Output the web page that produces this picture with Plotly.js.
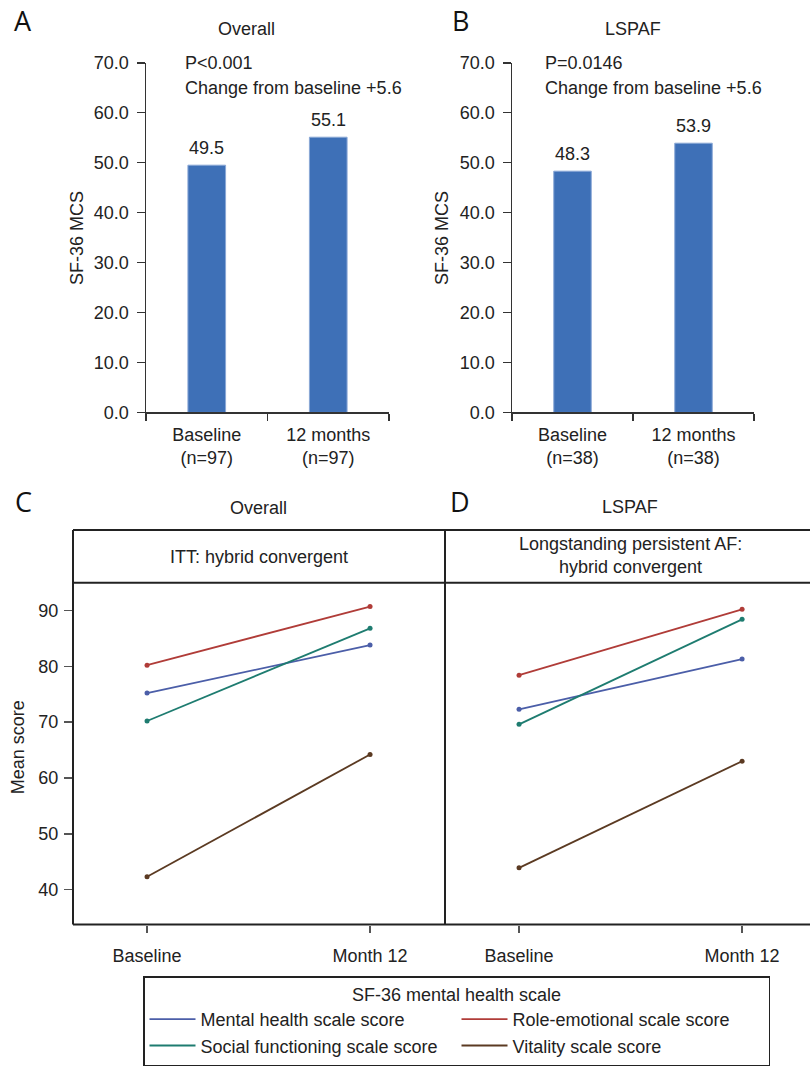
<!DOCTYPE html>
<html>
<head>
<meta charset="utf-8">
<script src="https://cdn.plot.ly/plotly-3.0.1.min.js"></script>
<style>html,body{margin:0;padding:0;background:#fff;}#chart{width:810px;height:1066px;}</style>
</head>
<body>
<div id="chart"></div>
<script>
// ---- data ----
const barCatsA = ['Baseline<br>(n=97)', '12 months<br>(n=97)'];
const barValsA = [49.5, 55.1];
const barCatsB = ['Baseline<br>(n=38)', '12 months<br>(n=38)'];
const barValsB = [48.3, 53.9];
const titleA = 'Overall';
const titleB = 'LSPAF';
const noteA = ['P<0.001', 'Change from baseline +5.6'];
const noteB = ['P=0.0146', 'Change from baseline +5.6'];

const timepoints = ['Baseline', 'Month 12'];
const scaleNames = ['Mental health scale score', 'Role-emotional scale score', 'Social functioning scale score', 'Vitality scale score'];
const overallMental = [75.2, 83.8];
const overallRole = [80.2, 90.7];
const overallSocial = [70.2, 86.8];
const overallVitality = [42.3, 64.2];
const lspafMental = [72.3, 81.3];
const lspafRole = [78.4, 90.2];
const lspafSocial = [69.6, 88.4];
const lspafVitality = [43.9, 63.0];
const stripC = 'ITT: hybrid convergent';
const stripD = 'Longstanding persistent AF:<br>hybrid convergent';

// ---- style ----
const W = 810, H = 1066;
const px = v => v / W;
const py = v => 1 - v / H;
const FONT = 'Arial, "Liberation Sans", Helvetica, sans-serif';
const FS = 18;
const TXT = '#222';
const barColor = '#3e70b7';
const lineColors = ['#4b5ea8', '#b03c38', '#1e7c70', '#5b3a22'];

const overallSeries = [overallMental, overallRole, overallSocial, overallVitality];
const lspafSeries = [lspafMental, lspafRole, lspafSocial, lspafVitality];

const traces = [];
traces.push({type: 'bar', x: barCatsA, y: barValsA, xaxis: 'x', yaxis: 'y', width: 0.31,
  marker: {color: barColor, line: {color: '#8aa8d6', width: 1}}, showlegend: false, hoverinfo: 'none'});
traces.push({type: 'bar', x: barCatsB, y: barValsB, xaxis: 'x2', yaxis: 'y2', width: 0.31,
  marker: {color: barColor, line: {color: '#8aa8d6', width: 1}}, showlegend: false, hoverinfo: 'none'});

function addSeries(series, xa, ya, withLegend) {
  series.forEach((s, i) => {
    traces.push({type: 'scatter', mode: 'lines', x: timepoints, y: s, xaxis: xa, yaxis: ya,
      name: scaleNames[i], legendgroup: 'g' + i, showlegend: withLegend,
      line: {color: lineColors[i], width: 1.8}, hoverinfo: 'none'});
    traces.push({type: 'scatter', mode: 'markers', x: timepoints, y: s, xaxis: xa, yaxis: ya,
      name: scaleNames[i], legendgroup: 'g' + i, showlegend: false,
      marker: {color: lineColors[i], size: 5}, hoverinfo: 'none'});
  });
}
addSeries(overallSeries, 'x3', 'y3', true);
addSeries(lspafSeries, 'x4', 'y4', false);

const font = {family: FONT, size: FS, color: TXT};
const axLine = '#333';

function barX(domain) {
  return {domain: domain, type: 'category', range: [-0.5, 1.5], tickson: 'boundaries',
    showline: true, linecolor: axLine, linewidth: 1.5, ticks: 'outside', ticklen: 7, tickcolor: axLine, tickwidth: 1.5,
    showgrid: false, zeroline: false, tickfont: font, ticklabelstandoff: 5, fixedrange: true};
}
function barY(domain, anchor) {
  return {domain: domain, anchor: anchor, range: [0, 70], dtick: 10, tick0: 0, tickformat: '.1f',
    showline: true, linecolor: axLine, linewidth: 1.5, ticks: 'outside', ticklen: 8, tickcolor: axLine, tickwidth: 1.5,
    showgrid: false, zeroline: false, tickfont: font, ticklabelstandoff: 4, fixedrange: true};
}
const yDomTop = [py(414), py(63)];
const yDomBot = [py(928), py(585)];
const yRangeBot = [33.75, 94.95];

const layout = {
  width: W, height: H,
  margin: {l: 0, r: 0, t: 0, b: 0, pad: 0},
  paper_bgcolor: '#fff', plot_bgcolor: 'rgba(0,0,0,0)',
  font: font,
  showlegend: true,
  xaxis: barX([px(146), px(389)]),
  yaxis: barY(yDomTop, 'x'),
  xaxis2: Object.assign(barX([px(512), px(754)]), {anchor: 'y2'}),
  yaxis2: barY(yDomTop, 'x2'),
  xaxis3: {domain: [px(73), px(445)], anchor: 'y3', type: 'category', range: [-0.332, 1.336],
    showline: false, ticks: 'outside', ticklen: 7, tickwidth: 1.5, tickcolor: '#555',
    showgrid: false, zeroline: false, tickfont: font, ticklabelstandoff: 8, fixedrange: true},
  yaxis3: {domain: yDomBot, anchor: 'x3', range: yRangeBot, tickvals: [40, 50, 60, 70, 80, 90],
    showline: false, ticks: 'outside', ticklen: 8, tickwidth: 1.5, tickcolor: '#555',
    showgrid: false, zeroline: false, tickfont: font, ticklabelstandoff: 2, fixedrange: true},
  xaxis4: {domain: [px(445), px(809)], anchor: 'y4', type: 'category', range: [-0.332, 1.30],
    showline: false, ticks: 'outside', ticklen: 7, tickwidth: 1.5, tickcolor: '#555',
    showgrid: false, zeroline: false, tickfont: font, ticklabelstandoff: 8, fixedrange: true},
  yaxis4: {domain: yDomBot, anchor: 'x4', range: yRangeBot, showticklabels: false, ticks: '',
    showline: false, showgrid: false, zeroline: false, fixedrange: true},
  bargap: 0.69,
  legend: {
    x: px(143), y: py(980), xanchor: 'left', yanchor: 'top', orientation: 'h',
    entrywidth: 251, entrywidthmode: 'pixels', itemwidth: 46,
    bordercolor: '#222', borderwidth: 1.5, bgcolor: '#fff',
    font: font, traceorder: 'normal',
    title: {text: 'SF-36 mental health scale', side: 'top center', font: font}
  },
  shapes: [],
  annotations: []
};

// frame lines for panels C and D
const lineStyle = {color: '#222', width: 2};
[[73, 532, 73, 928], [445, 532, 445, 928], [73, 532, 810, 532], [73, 585, 810, 585], [73, 928, 810, 928]].forEach(c => {
  layout.shapes.push({type: 'line', xref: 'paper', yref: 'paper', x0: px(c[0]), y0: py(c[1]), x1: px(c[2]), y1: py(c[3]), line: lineStyle});
});

function ann(text, x, y, opts) {
  layout.annotations.push(Object.assign({text: text, xref: 'paper', yref: 'paper', x: px(x), y: py(y),
    showarrow: false, font: font, xanchor: 'center', yanchor: 'middle'}, opts || {}));
}
const letterFont = {family: '"Open Sans", "Liberation Sans", sans-serif', size: 27, color: '#111'};
ann('A', 23, 21, {font: letterFont});
ann('B', 461, 21, {font: letterFont});
ann('C', 23, 503, {font: letterFont});
ann('D', 460, 503, {font: letterFont});

ann(titleA, 247, 29);
ann(titleB, 633, 29);
ann(titleA, 258, 510);
ann(titleB, 630, 509);

ann(noteA[0], 183, 63, {xanchor: 'left'});
ann(noteA[1], 183, 88, {xanchor: 'left'});
ann(noteB[0], 543, 63, {xanchor: 'left'});
ann(noteB[1], 543, 88, {xanchor: 'left'});

ann('SF-36 MCS', 77, 239, {textangle: -90});
ann('SF-36 MCS', 442, 239, {textangle: -90});
ann('Mean score', 18, 750, {textangle: -90});

ann(stripC, 259, 559);
ann(stripD, 630, 558);

// bar value labels
barCatsA.forEach((c, i) => {
  layout.annotations.push({text: barValsA[i].toFixed(1), xref: 'x', yref: 'y', x: c, y: barValsA[i],
    yanchor: 'bottom', yshift: 5, showarrow: false, font: font});
});
barCatsB.forEach((c, i) => {
  layout.annotations.push({text: barValsB[i].toFixed(1), xref: 'x2', yref: 'y2', x: c, y: barValsB[i],
    yanchor: 'bottom', yshift: 5, showarrow: false, font: font});
});

Plotly.newPlot('chart', traces, layout, {staticPlot: true, displayModeBar: false});
</script>
</body>
</html>
